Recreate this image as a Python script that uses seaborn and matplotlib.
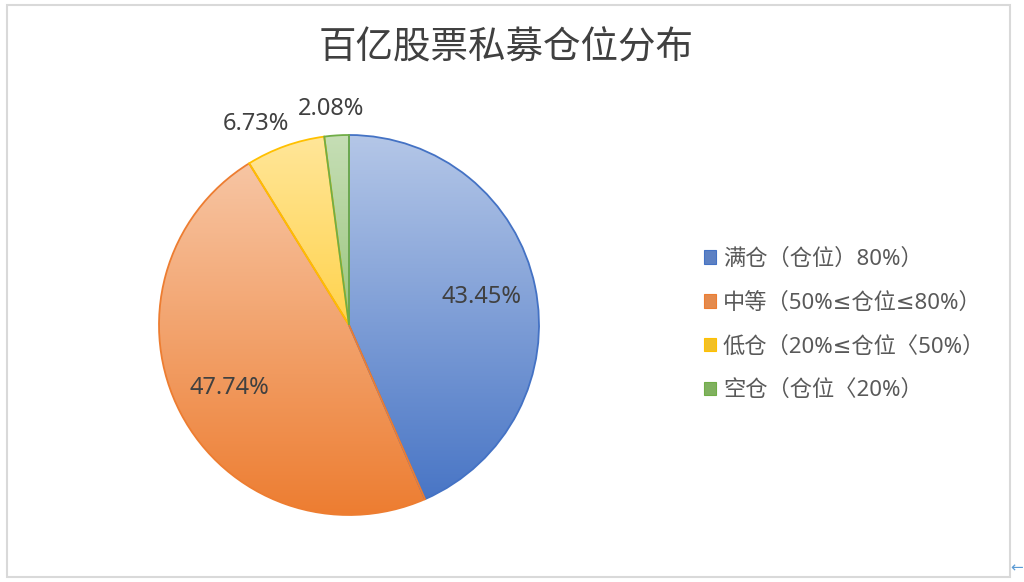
import numpy as np
import matplotlib
matplotlib.use("Agg")
import matplotlib.pyplot as plt
import matplotlib.colors as mcolors
from matplotlib.patches import Patch, Rectangle
import seaborn as sns

# data
title = "百亿股票私募仓位分布"
categories = ["满仓（仓位）80%）", "中等（50%≤仓位≤80%）", "低仓（20%≤仓位〈50%）", "空仓（仓位〈20%）"]
shares = [43.45, 47.74, 6.73, 2.08]
colors = ["#4472C4", "#ED7D31", "#FFC000", "#70AD47"]

sns.set_theme(style="white")
plt.rcParams["font.family"] = ["Noto Sans", "DejaVu Sans", "Noto Sans CJK SC"]

W, H = 1024, 582
fig = plt.figure(figsize=(W / 100, H / 100), dpi=100)
fig.patch.set_facecolor("white")

# grey chart frame
fig.patches.append(Rectangle((7 / W, 5 / H), 1003 / W, 572 / H, transform=fig.transFigure,
                             fill=False, edgecolor="#D9D9D9", linewidth=1.5))

# pie axes (center ~ (349, 325), radius ~190 px)
ax = fig.add_axes([159 / W, 67 / H, 380 / W, 380 / H])
wedges, _ = ax.pie(shares, colors=colors, startangle=90, counterclock=False, radius=1,
                   wedgeprops=dict(linewidth=1.3))

# vertical gradient fill, light on top, base colour at the bottom
t = np.linspace(0, 1, 256)[:, None, None]
for w, c in zip(wedges, colors):
    base = np.array(mcolors.to_rgb(c))
    light = base * 0.4 + 0.6
    grad = light[None, None, :] * (1 - t) + base[None, None, :] * t
    w.set_facecolor("none")
    w.set_edgecolor(c)
    w.set_zorder(2)
    im = ax.imshow(grad, extent=(-1, 1, -1, 1), aspect="auto", origin="upper", zorder=1)
    im.set_clip_path(w)

# percentage labels: big slices inside, small ones pushed out above the rim
outside_offsets = [(-21, 16), (-4, 19)]
k = 0
for w, v in zip(wedges, shares):
    mid = np.deg2rad((w.theta1 + w.theta2) / 2)
    if v > 10:
        ax.text(0.71 * np.cos(mid), 0.71 * np.sin(mid), f"{v:.2f}%", ha="center", va="center",
                fontsize=17, color="#404040")
    else:
        ax.annotate(f"{v:.2f}%", xy=(np.cos(mid), np.sin(mid)), xytext=outside_offsets[k],
                    textcoords="offset points", ha="center", va="center",
                    fontsize=17, color="#404040", annotation_clip=False)
        k += 1

ax.set_xlim(-1, 1)
ax.set_ylim(-1, 1)
ax.axis("off")

# legend
handles = []
for c in colors:
    base = np.array(mcolors.to_rgb(c))
    handles.append(Patch(facecolor=base * 0.8 + 0.15, edgecolor=c, linewidth=0.8))
leg = fig.legend(handles, categories, loc="center left", bbox_to_anchor=(704 / W, 1 - 325 / H),
                 frameon=False, fontsize=16, labelspacing=1.02, handlelength=0.55,
                 handleheight=0.55, handletextpad=0.3, borderpad=0, borderaxespad=0)
for txt in leg.get_texts():
    txt.set_color("#595959")

fig.text(506.5 / W, 1 - 48 / H, title, ha="center", va="center", fontsize=27, color="#404040",
         family=["Noto Sans CJK SC"])
fig.text(1017 / W, 1 - 568 / H, "←", ha="center", va="center", fontsize=11, color="#5B9BD5",
         family=["DejaVu Sans"])

fig.savefig("out.png", dpi=100)
